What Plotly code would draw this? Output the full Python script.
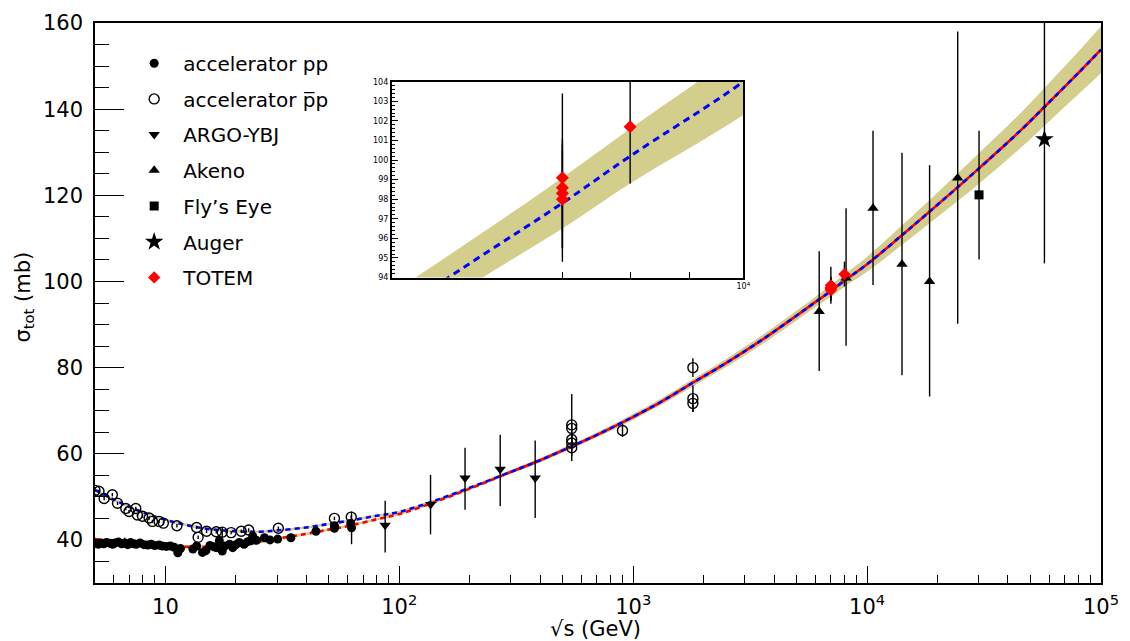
import math
import plotly.graph_objects as go

# ---------------- fit curves (pp and pbar-p) with uncertainty band ----------------
sqrt_s_fit = [5, 6, 7, 8, 10, 12, 15, 20, 25, 30, 40, 50, 60, 80, 100, 140, 200,
              300, 400, 550, 700, 900, 1300, 1800, 2500, 3500, 5000, 6000, 7000,
              8000, 10000, 14000, 20000, 30000, 45000, 60000, 80000, 100000]
sigma_pp_fit = [40.2, 39.6, 39.2, 38.9, 38.5, 38.4, 38.4, 38.8, 39.5, 40.3, 41.4,
                42.4, 43.2, 44.8, 46.0, 48.7, 51.9,
                55.8, 58.5, 61.8, 64.4, 67.3, 71.9, 76.5, 81.1, 86.2, 92.1, 95.2,
                97.8, 100.2, 104.0, 110.6, 117.8, 126.2, 134.9, 141.6, 148.4, 153.8]
sigma_pbarp_fit = [51.6, 49.4, 47.7, 46.4, 44.7, 43.6, 42.6, 42.0, 41.9, 42.2, 42.9,
                   43.7, 44.4, 45.6, 46.5, 49.0, 52.1,
                   55.8, 58.5, 61.8, 64.4, 67.3, 71.9, 76.5, 81.1, 86.2, 92.1, 95.2,
                   97.8, 100.2, 104.0, 110.6, 117.8, 126.2, 134.9, 141.6, 148.4, 153.8]
band_halfwidth = [0.3, 0.3, 0.3, 0.3, 0.3, 0.3, 0.3, 0.3, 0.3, 0.3, 0.3,
                  0.3, 0.3, 0.3, 0.3, 0.3, 0.35,
                  0.4, 0.45, 0.5, 0.55, 0.6, 0.7, 0.8, 0.9, 1.0, 1.1, 1.15,
                  1.3, 1.4, 1.7, 2.2, 2.8, 3.5, 4.0, 4.4, 4.9, 5.4]

# ---------------- measurements ----------------
pp_sqrt_s = [5.0, 5.15, 5.3, 5.45, 5.6, 5.8, 5.95, 6.1, 6.3, 6.5,
             6.7, 6.9, 7.1, 7.3, 7.5, 7.8, 8.1, 8.4, 8.7, 9.0,
             9.4, 9.7, 10.1, 10.5, 10.9, 11.3, 11.6, 13.1, 13.6, 14.4,
             14.9, 15.5, 16.1, 16.5, 17.0, 17.5, 17.9, 18.8, 19.4, 20.0,
             20.7, 21.7, 22.5, 23.2, 23.6, 24.5, 26.5, 28.0, 30.2, 34.4,
             44.0, 52.8, 52.8, 62.0, 62.5]
pp_sigma = [39.2, 39.0, 39.3, 39.1, 39.4, 39.2, 39.0, 39.3, 39.5, 39.1,
            39.3, 38.9, 39.4, 39.1, 39.0, 39.3, 38.9, 38.8, 39.0, 38.7,
            38.8, 38.6, 38.5, 38.6, 38.3, 37.0, 38.0, 37.9, 38.6, 37.1,
            37.5, 38.7, 38.4, 38.2, 39.8, 37.4, 38.6, 39.0, 38.2, 38.9,
            39.4, 39.0, 39.6, 39.8, 40.9, 39.9, 40.5, 40.0, 40.2, 40.5,
            42.0, 43.3, 42.7, 43.8, 42.8]
pp_err = [0.3, 0.3, 0.4, 0.3, 0.4, 0.5, 0.3, 1.0, 0.8, 0.4,
          1.2, 0.4, 0.9, 0.3, 0.4, 0.8, 0.3, 0.3, 0.4, 0.3,
          0.3, 0.3, 0.3, 0.3, 0.3, 0.3, 0.3, 0.3, 0.3, 0.3,
          0.3, 0.3, 0.3, 0.3, 0.3, 0.8, 0.3, 0.3, 0.3, 0.3,
          0.3, 0.3, 0.3, 0.3, 0.3, 0.3, 0.3, 0.3, 0.3, 0.3,
          0.3, 0.3, 0.3, 0.5, 3.8]

pbarp_sqrt_s = [5.0, 5.2, 5.47, 5.93, 6.24, 6.77, 6.99, 7.47, 7.59, 7.98,
                8.52, 8.8, 9.4, 9.8, 11.2, 13.6, 13.8, 15.0, 16.5, 17.5,
                19.1, 21.1, 22.7, 30.4, 52.8, 62.3, 546, 546, 546, 546,
                546, 900, 1800, 1800, 1800]
pbarp_sigma = [51.5, 51.3, 49.6, 50.5, 48.5, 47.3, 46.6, 47.3, 45.8, 45.5,
               45.1, 44.3, 44.3, 43.9, 43.3, 42.9, 40.6, 42.0, 41.9, 41.8,
               41.7, 42.0, 42.3, 42.7, 45.0, 45.3, 61.4, 62.5, 63.3, 65.9,
               66.7, 65.4, 80.0, 72.8, 71.7]
pbarp_err = [0.4, 0.4, 0.4, 0.4, 0.4, 0.4, 0.4, 0.4, 0.4, 0.4,
             0.4, 0.4, 0.4, 0.4, 0.4, 0.4, 0.4, 0.4, 0.4, 1.2,
             0.4, 0.4, 0.4, 0.4, 0.4, 0.4, 3.1, 1.5, 1.5, 1.0,
             7.2, 1.5, 2.2, 3.1, 2.0]

argo_sqrt_s = [87, 136, 191, 270, 381]
argo_sigma = [43.4, 48.2, 54.4, 56.4, 54.4]
argo_err_up = [5.7, 6.9, 7.0, 8.0, 8.7]
argo_err_down = [6.3, 6.9, 7.4, 8.5, 9.3]

akeno_sqrt_s = [6240, 8130, 10600, 14100, 18500, 24400]
akeno_sigma = [93.0, 100.8, 117.0, 104.0, 100.0, 124.0]
akeno_err_up = [14.0, 16.2, 18.0, 25.9, 27.0, 34.0]
akeno_err_down = [13.8, 15.7, 17.8, 25.8, 26.7, 33.8]

flyseye_sqrt_s = [30100]
flyseye_sigma = [120.1]
flyseye_err_up = [14.9]
flyseye_err_down = [15.0]

auger_sqrt_s = [57300]
auger_sigma = [133.0]
auger_err_up = [29.0]
auger_err_down = [28.8]

totem_sqrt_s = [7000, 7000, 7000, 7000, 8000]
totem_sigma = [98.0, 98.3, 98.58, 99.1, 101.7]
totem_err = [2.5, 2.8, 2.23, 4.3, 2.9]

# axis ticks
x_tick_vals = [10, 100, 1000, 10000, 100000]
x_tick_text = ["10", "10<sup>2</sup>", "10<sup>3</sup>", "10<sup>4</sup>", "10<sup>5</sup>"]
y_tick_vals = [40, 60, 80, 100, 120, 140, 160]
inset_y_ticks = [94, 95, 96, 97, 98, 99, 100, 101, 102, 103, 104]

FONT = "DejaVu Sans"
BAND = "#d3ce8c"
RED = "#ff0000"
BLUE = "#0000ff"

fig = go.Figure()


def add_band(center, xa="x", ya="y"):
    upper = [c + h for c, h in zip(center, band_halfwidth)]
    lower = [c - h for c, h in zip(center, band_halfwidth)]
    fig.add_trace(go.Scatter(x=sqrt_s_fit, y=upper, mode="lines", xaxis=xa, yaxis=ya,
                             line=dict(width=0, color=BAND, shape="spline"),
                             showlegend=False, hoverinfo="skip"))
    fig.add_trace(go.Scatter(x=sqrt_s_fit, y=lower, mode="lines", xaxis=xa, yaxis=ya,
                             line=dict(width=0, color=BAND, shape="spline"),
                             fill="tonexty", fillcolor=BAND,
                             showlegend=False, hoverinfo="skip"))


add_band(sigma_pp_fit)
add_band(sigma_pbarp_fit)

# fit lines: below the merge point both curves are dashed on their own,
# above it a solid red line shows through the gaps of the blue dashes
k = sqrt_s_fit.index(300)
low, high = slice(0, k + 1), slice(k, None)
fig.add_trace(go.Scatter(x=sqrt_s_fit[low], y=sigma_pp_fit[low], mode="lines",
                         line=dict(color=RED, width=2.6, dash="5px,4px", shape="spline"),
                         showlegend=False, hoverinfo="skip"))
fig.add_trace(go.Scatter(x=sqrt_s_fit[low], y=sigma_pbarp_fit[low], mode="lines",
                         line=dict(color=BLUE, width=2.6, dash="5px,4px", shape="spline"),
                         showlegend=False, hoverinfo="skip"))
fig.add_trace(go.Scatter(x=sqrt_s_fit[high], y=sigma_pp_fit[high], mode="lines",
                         line=dict(color=RED, width=2.6, shape="spline"),
                         showlegend=False, hoverinfo="skip"))
fig.add_trace(go.Scatter(x=sqrt_s_fit[high], y=sigma_pbarp_fit[high], mode="lines",
                         line=dict(color=BLUE, width=2.6, dash="5px,4px", shape="spline"),
                         showlegend=False, hoverinfo="skip"))


def err(up, down=None):
    d = dict(type="data", array=up, color="black", thickness=1.4, width=0, visible=True)
    if down is not None:
        d["symmetric"] = False
        d["arrayminus"] = down
    return d


fig.add_trace(go.Scatter(x=pp_sqrt_s, y=pp_sigma, mode="markers", name="accelerator pp",
                         legendgroup="a", error_y=err(pp_err),
                         marker=dict(symbol="circle", size=9, color="black")))
fig.add_trace(go.Scatter(x=pbarp_sqrt_s, y=pbarp_sigma, mode="markers",
                         name="accelerator p\u0305p",
                         legendgroup="b", error_y=err(pbarp_err),
                         marker=dict(symbol="circle-open", size=10, color="black",
                                     line=dict(width=1.4, color="black"))))
fig.add_trace(go.Scatter(x=argo_sqrt_s, y=argo_sigma, mode="markers", name="ARGO-YBJ",
                         legendgroup="c", error_y=err(argo_err_up, argo_err_down),
                         marker=dict(symbol="triangle-down", size=10, color="black")))
fig.add_trace(go.Scatter(x=akeno_sqrt_s, y=akeno_sigma, mode="markers", name="Akeno",
                         legendgroup="d", error_y=err(akeno_err_up, akeno_err_down),
                         marker=dict(symbol="triangle-up", size=10, color="black")))
fig.add_trace(go.Scatter(x=flyseye_sqrt_s, y=flyseye_sigma, mode="markers", name="Fly’s Eye",
                         legendgroup="e", error_y=err(flyseye_err_up, flyseye_err_down),
                         marker=dict(symbol="square", size=9, color="black")))
fig.add_trace(go.Scatter(x=auger_sqrt_s, y=auger_sigma, mode="markers", name="Auger",
                         legendgroup="f", error_y=err(auger_err_up, auger_err_down),
                         marker=dict(symbol="star", size=14, color="black")))
fig.add_trace(go.Scatter(x=totem_sqrt_s, y=totem_sigma, mode="markers", name="TOTEM",
                         legendgroup="g", error_y=err(totem_err),
                         marker=dict(symbol="diamond", size=9.5, color=RED)))

# ---------------- inset: zoom on the LHC energies ----------------
add_band(sigma_pp_fit, "x2", "y2")
fig.add_trace(go.Scatter(x=sqrt_s_fit, y=sigma_pbarp_fit, mode="lines", xaxis="x2", yaxis="y2",
                         line=dict(color=BLUE, width=3, dash="7px,5px", shape="spline"),
                         showlegend=False, hoverinfo="skip"))
fig.add_trace(go.Scatter(x=totem_sqrt_s, y=totem_sigma, mode="markers", xaxis="x2", yaxis="y2",
                         error_y=err(totem_err), showlegend=False,
                         marker=dict(symbol="diamond", size=10, color=RED)))

x_minor = [m * 10 ** e for e in range(0, 5) for m in range(2, 10) if 5 <= m * 10 ** e <= 1e5]

fig.update_layout(
    width=1130, height=641,
    margin=dict(l=95, r=28, t=11, b=58),
    paper_bgcolor="white", plot_bgcolor="white",
    font=dict(family=FONT, color="black"),
    xaxis=dict(type="log", range=[math.log10(5), 5], domain=[0, 1],
               tickvals=x_tick_vals, ticktext=x_tick_text,
               ticks="inside", ticklen=17, tickwidth=1.3, tickcolor="black",
               tickfont=dict(size=21, family=FONT), ticklabelstandoff=4,
               minor=dict(tickvals=x_minor, ticks="inside", ticklen=8, tickwidth=1.3,
                          tickcolor="black", showgrid=False),
               showline=True, linecolor="black", linewidth=1.5, mirror=True,
               showgrid=False, zeroline=False),
    yaxis=dict(range=[30, 160], domain=[0, 1], tickvals=y_tick_vals,
               ticks="inside", ticklen=29, tickwidth=1.3, tickcolor="black",
               tickfont=dict(size=21, family=FONT), ticklabelstandoff=6,
               minor=dict(dtick=5, tick0=0, ticks="inside", ticklen=14, tickwidth=1.3,
                          tickcolor="black", showgrid=False),
               showline=True, linecolor="black", linewidth=1.5, mirror=True,
               showgrid=False, zeroline=False),
    xaxis2=dict(type="log", range=[math.log10(5000), 4], domain=[0.2949, 0.6445],
                anchor="y2", tickvals=[10000], ticktext=["10<sup>4</sup>"], ticks="",
                tickfont=dict(size=8, family=FONT),
                minor=dict(tickvals=[7000, 8000, 9000], ticks="inside", ticklen=6,
                           tickwidth=1.2, tickcolor="black", showgrid=False),
                showline=True, linecolor="black", linewidth=1.5, mirror=True,
                showgrid=False, zeroline=False),
    yaxis2=dict(range=[94, 104], domain=[0.5455, 0.8951], anchor="x2",
                tickvals=inset_y_ticks, ticks="inside", ticklen=7, tickwidth=1.2,
                tickcolor="black", tickfont=dict(size=8, family=FONT),
                minor=dict(dtick=0.2, ticks="inside", ticklen=3.5, tickwidth=1,
                           tickcolor="black", showgrid=False),
                showline=True, linecolor="black", linewidth=1.5, mirror=True,
                showgrid=False, zeroline=False),
    legend=dict(x=0.03, y=0.963, xanchor="left", yanchor="top",
                font=dict(size=20, family=FONT, color="black"),
                bgcolor="rgba(0,0,0,0)", itemwidth=48, tracegroupgap=6.7,
                traceorder="grouped"),
    annotations=[
        dict(text="σ<sub>tot</sub> (mb)", xref="paper", yref="paper",
             x=-0.0705, y=0.51, xanchor="center", yanchor="middle", textangle=-90,
             showarrow=False, font=dict(size=21, family=FONT)),
        dict(text="√s (GeV)", xref="paper", yref="paper",
             x=0.498, y=-0.082, xanchor="center", yanchor="middle",
             showarrow=False, font=dict(size=21, family=FONT)),
    ],
)

fig.write_html("out.html")
